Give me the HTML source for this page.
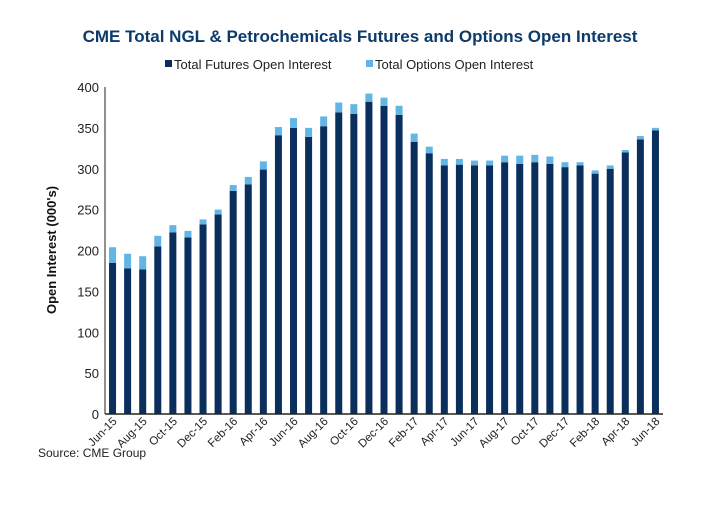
<!DOCTYPE html>
<html><head><meta charset="utf-8"><style>
body{margin:0;background:#fff;font-family:"Liberation Sans",sans-serif}
svg text{font-family:"Liberation Sans",sans-serif}
</style></head><body>
<svg id="chart" width="720" height="500">
<text x="360" y="42" text-anchor="middle" font-size="17" font-weight="bold" fill="#0b3a6b">CME Total NGL &amp; Petrochemicals Futures and Options Open Interest</text>
<g>
<rect x="165" y="60" width="7" height="7" fill="#0a2f5c"/>
<text x="174" y="69" font-size="13" fill="#222">Total Futures Open Interest</text>
<rect x="366" y="60" width="7" height="7" fill="#62b5e5"/>
<text x="375" y="69" font-size="13" fill="#222">Total Options Open Interest</text>
</g>
<text transform="translate(56,250) rotate(-90)" text-anchor="middle" font-size="13" font-weight="bold" fill="#111">Open Interest (000's)</text>
<g id="yaxis"></g><g id="bars"></g><g id="xaxis"></g>
<text x="38" y="457" font-size="12" fill="#222">Source: CME Group</text>
</svg>
<script>
const categories=["Jun-15","Jul-15","Aug-15","Sep-15","Oct-15","Nov-15","Dec-15","Jan-16","Feb-16","Mar-16","Apr-16","May-16","Jun-16","Jul-16","Aug-16","Sep-16","Oct-16","Nov-16","Dec-16","Jan-17","Feb-17","Mar-17","Apr-17","May-17","Jun-17","Jul-17","Aug-17","Sep-17","Oct-17","Nov-17","Dec-17","Jan-18","Feb-18","Mar-18","Apr-18","May-18","Jun-18"];
const futures=[185,178,177,205,222,216,232,244,273,281,299,341,350,339,352,369,367,382,377,366,333,319,304,305,304,304,308,306,308,306,302,304,294,300,320,336,347];
const options=[19,18,16,13,9,8,6,6,7,9,10,10,12,11,12,12,12,10,10,11,10,8,8,7,6,6,8,10,9,9,6,4,4,4,3,4,3];
const yTicks=[0,50,100,150,200,250,300,350,400];
const NS="http://www.w3.org/2000/svg";
const x0=105,x1=663,yTop=87,yBot=414,yMax=400;
const step=(x1-x0)/categories.length;
const xc=i=>x0+step*(i+0.5);
const y=v=>yBot-(v/yMax)*(yBot-yTop);
function mk(tag,attrs,parent){const e=document.createElementNS(NS,tag);for(const k in attrs)e.setAttribute(k,attrs[k]);parent.appendChild(e);return e;}
const ya=document.getElementById('yaxis'),bg=document.getElementById('bars'),xa=document.getElementById('xaxis');
yTicks.forEach(t=>{const tx=mk('text',{x:x0-6,y:y(t)+5,'text-anchor':'end','font-size':13,fill:'#222'},ya);tx.textContent=t;

});
const yl=mk('line',{x1:x0,x2:x0,y1:yTop,y2:yBot,stroke:'#222','stroke-width':1},ya);


const bw=7;
categories.forEach((c,i)=>{
 const f=futures[i],o=options[i];
 const r1=mk('rect',{x:xc(i)-bw/2,y:y(f),width:bw,height:y(0)-y(f),fill:'#0a2f5c'},bg);
 
 
 const r2=mk('rect',{x:xc(i)-bw/2,y:y(f+o),width:bw,height:y(f)-y(f+o),fill:'#62b5e5'},bg);
 
 
 if(i%2===0){const t=mk('text',{transform:`translate(${xc(i)+5},${yBot+8}) rotate(-45)`,'text-anchor':'end','font-size':11.5,fill:'#222'},xa);t.textContent=c;
 
 }
});
const xl=mk('line',{x1:x0,x2:x1,y1:yBot,y2:yBot,stroke:'#222','stroke-width':1.5},xa);


</script>
</body></html>
